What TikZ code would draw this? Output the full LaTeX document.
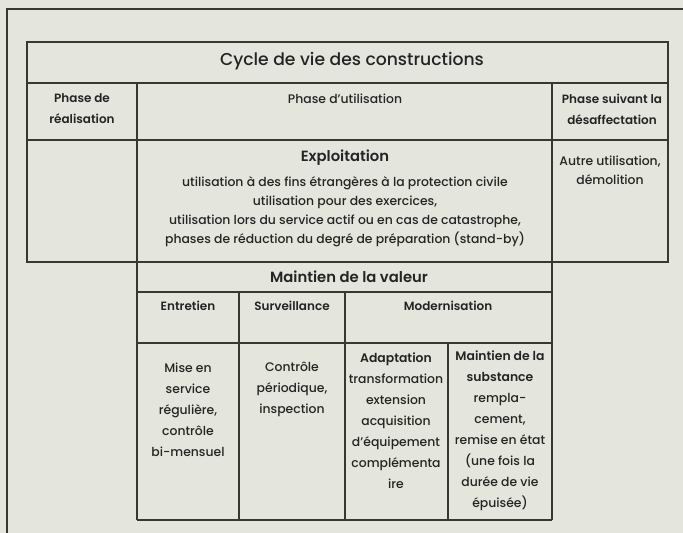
\documentclass[tikz,border=0pt]{standalone}
\usepackage{fontspec}
\setmainfont{Poppins}[UprightFont=* Medium, BoldFont=* SemiBold]
\definecolor{paper}{HTML}{E4E6DE}
\definecolor{ink}{HTML}{262422}
\definecolor{rule}{HTML}{3A3632}
\begin{document}
\begin{tikzpicture}[x=1pt,y=-1pt,
  ln/.style={draw=rule,line width=1.1pt},
  txt/.style={text=ink,align=center,inner sep=0pt,font=\fontsize{12.4}{21}\selectfont},
  txtx/.style={text=ink,align=center,inner sep=0pt,font=\fontsize{12.4}{19}\selectfont},
  hd/.style={text=ink,align=center,inner sep=0pt,font=\fontsize{12}{21}\selectfont\bfseries},
  bighd/.style={text=ink,align=center,inner sep=0pt,font=\fontsize{14.8}{17}\selectfont\bfseries},
  ttl/.style={text=ink,align=center,inner sep=0pt,font=\fontsize{17.2}{20}\selectfont}]
\fill[paper] (0,0) rectangle (683,533);
\useasboundingbox (0,0) rectangle (683,533);
% outer page frame
\draw[ln] (7,533) -- (7,9) -- (683,9);
% upper table
\draw[ln] (27,42) rectangle (668,262);
\draw[ln] (27,83) -- (668,83);
\draw[ln] (27,140) -- (668,140);
\draw[ln] (137,83) -- (137,520);
\draw[ln] (552,83) -- (552,520);
% Maintien de la valeur
\draw[ln] (137,520) -- (552,520);
\draw[ln] (137,292) -- (552,292);
\draw[ln] (239,292) -- (239,520);
\draw[ln] (345,292) -- (345,520);
\draw[ln] (137,343) -- (552,343);
\draw[ln] (448,343) -- (448,520);
% texts
\node[ttl] (title) at (352,61) {Cycle de vie des constructions};
\node[hd] (real) at (82,109) {Phase de\\réalisation};
\node[txt] (util) at (345,99) {Phase d’utilisation};
\node[hd] (desaff) at (612,109) {Phase suivant la\\désaffectation};
\node[bighd] (exploit) at (345,158) {Exploitation};
\node[txtx] (exptxt) at (345,212) {utilisation à des fins étrangères à la protection civile\\utilisation pour des exercices,\\utilisation lors du service actif ou en cas de catastrophe,\\phases de réduction du degré de préparation (stand-by)};
\node[txtx] (autre) at (610,170) {Autre utilisation,\\démolition};
\node[bighd] (maint) at (349,277) {Maintien de la valeur};
\node[hd] (entr) at (188,306) {Entretien};
\node[hd] (surv) at (292,306) {Surveillance};
\node[hd] (mod) at (448,306) {Modernisation};
\node[txt] (entrtxt) at (188,410) {Mise en\\service\\régulière,\\contrôle\\bi-mensuel};
\node[txt] (survtxt) at (292,389) {Contrôle\\périodique,\\inspection};
\node[txt] (adapt) at (396,421) {\textbf{Adaptation}\\transformation\\extension\\acquisition\\d’équipement\\complémenta\\ire};
\node[txt] (subst) at (500,431) {\textbf{Maintien de la}\\\textbf{substance}\\rempla-\\cement,\\remise en état\\(une fois la\\durée de vie\\épuisée)};
\end{tikzpicture}
\end{document}
